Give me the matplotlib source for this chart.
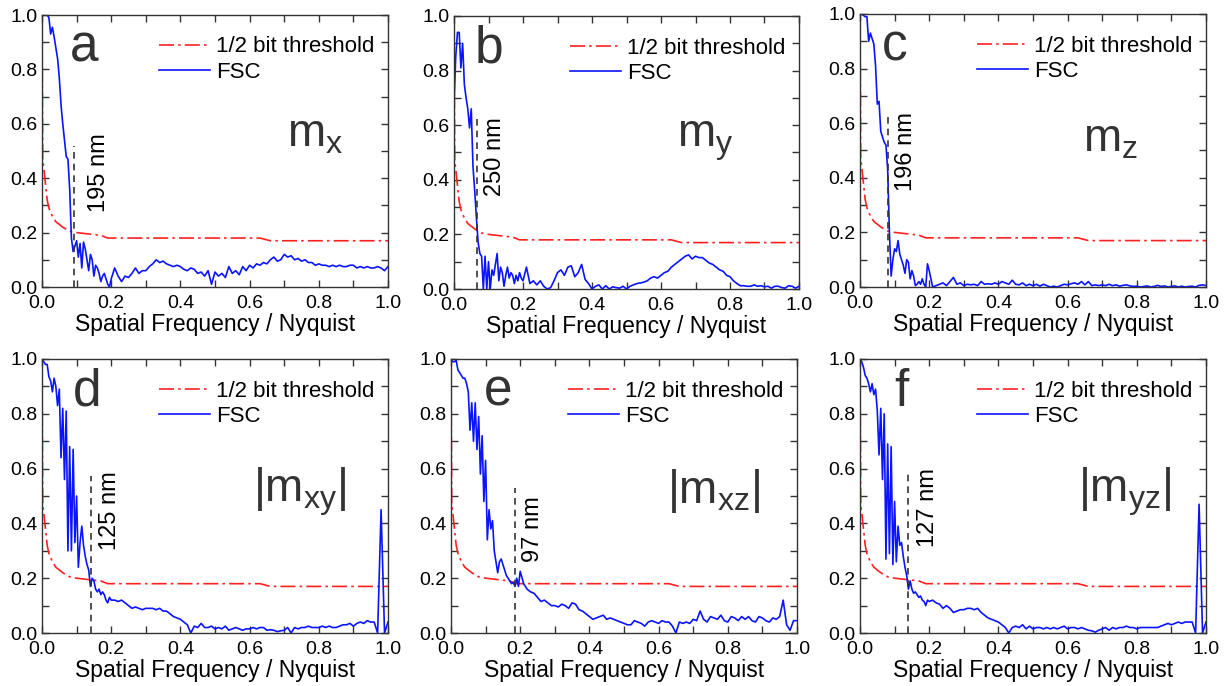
import numpy as np
import matplotlib
matplotlib.use("Agg")
import matplotlib.pyplot as plt
from matplotlib.ticker import MultipleLocator

plt.rcParams['font.family'] = ['Liberation Sans', 'DejaVu Sans']
plt.rcParams['mathtext.fontset'] = 'custom'
plt.rcParams['mathtext.rm'] = 'Liberation Sans'
plt.rcParams['mathtext.it'] = 'Liberation Sans'
plt.rcParams['mathtext.bf'] = 'Liberation Sans:bold'

# sampling grid: fine steps up to 0.2, coarser afterwards
freq = np.concatenate([np.arange(41) * 0.005, 0.21 + np.arange(80) * 0.01])

# 1/2 bit threshold
thr_x = [0.0, 0.002, 0.005, 0.01, 0.015, 0.02, 0.03, 0.04, 0.06, 0.08, 0.10, 0.17, 0.19, 0.63, 0.66, 1.0]
thr_y = [1.0, 0.47, 0.44, 0.38, 0.32, 0.29, 0.26, 0.24, 0.22, 0.205, 0.20, 0.19, 0.18, 0.18, 0.17, 0.17]

fsc_a = [1.00, 1.00, 1.00, 1.00, 0.99, 0.93, 0.955, 0.92, 0.88, 0.84,
         0.77, 0.67, 0.60, 0.54, 0.48, 0.47, 0.36, 0.18, 0.13, 0.15,
         0.17, 0.11, 0.16, 0.07, 0.165, 0.14, 0.10, 0.06, 0.12, 0.10,
         0.04, 0.08, 0.07, 0.05, 0.02, 0.04, 0.05, 0.03, 0.01, 0.00,
         0.03,
         0.07, 0.04, 0.02, 0.04, 0.035, 0.05, 0.07, 0.05, 0.06, 0.06,
         0.075, 0.085, 0.10, 0.09, 0.095, 0.085, 0.08, 0.075, 0.08, 0.075,
         0.065, 0.06, 0.07, 0.065, 0.05, 0.055, 0.04, 0.06, 0.01, 0.055,
         0.04, 0.05, 0.035, 0.075, 0.05, 0.06, 0.045, 0.075, 0.06, 0.08,
         0.07, 0.085, 0.08, 0.09, 0.085, 0.10, 0.11, 0.095, 0.10, 0.12,
         0.11, 0.115, 0.10, 0.105, 0.095, 0.10, 0.09, 0.09, 0.08, 0.085,
         0.08, 0.08, 0.075, 0.08, 0.075, 0.08, 0.075, 0.075, 0.08, 0.08,
         0.07, 0.075, 0.07, 0.075, 0.07, 0.07, 0.075, 0.07, 0.06, 0.075]

fsc_b = [0.68, 0.85, 0.94, 0.94, 0.81, 0.90, 0.75, 0.70, 0.66, 0.59,
         0.66, 0.45, 0.36, 0.26, 0.17, 0.13, 0.12, 0.00, 0.12, 0.00,
         0.10, 0.00, 0.07, 0.05, 0.09, 0.13, 0.03, 0.08, 0.06, 0.01,
         0.05, 0.08, 0.04, 0.06, 0.05, 0.02, 0.05, 0.03, 0.06, 0.04,
         0.03,
         0.08, 0.02, 0.03, 0.015, 0.03, 0.01, 0.0, 0.005, 0.03, 0.06,
         0.07, 0.05, 0.08, 0.085, 0.045, 0.06, 0.09, 0.035, 0.02, 0.0,
         0.01, 0.015, 0.0, 0.012, 0.0, 0.008, 0.005, 0.003, 0.01, 0.0,
         0.01, 0.015, 0.02, 0.022, 0.025, 0.03, 0.04, 0.045, 0.04, 0.05,
         0.06, 0.065, 0.08, 0.09, 0.10, 0.11, 0.12, 0.125, 0.11, 0.12,
         0.115, 0.115, 0.105, 0.095, 0.09, 0.08, 0.07, 0.065, 0.05, 0.045,
         0.03, 0.02, 0.012, 0.012, 0.01, 0.01, 0.015, 0.01, 0.012, 0.008,
         0.01, 0.003, 0.01, 0.01, 0.005, 0.003, 0.012, 0.01, 0.003, 0.01]

fsc_c = [1.00, 1.00, 0.995, 0.99, 0.99, 0.90, 0.93, 0.91, 0.89, 0.81,
         0.67, 0.68, 0.57, 0.55, 0.53, 0.52, 0.43, 0.20, 0.04, 0.10,
         0.14, 0.13, 0.17, 0.12, 0.10, 0.08, 0.05, 0.10, 0.09, 0.03,
         0.06, 0.04, 0.005, 0.01, 0.02, 0.01, 0.03, 0.01, 0.0, 0.085,
         0.06,
         0.0, 0.005, 0.01, 0.015, 0.005, 0.02, 0.035, 0.01, 0.015, 0.005,
         0.01, 0.008, 0.01, 0.005, 0.02, 0.01, 0.012, 0.01, 0.015, 0.01,
         0.02, 0.015, 0.01, 0.025, 0.01, 0.008, 0.015, 0.005, 0.01, 0.005,
         0.01, 0.003, 0.01, 0.005, 0.0, 0.003, 0.0, 0.005, 0.01, 0.008,
         0.012, 0.015, 0.01, 0.02, 0.008, 0.02, 0.005, 0.008, 0.005, 0.008,
         0.005, 0.01, 0.005, 0.008, 0.003, 0.006, 0.008, 0.004, 0.002, 0.003,
         0.0, 0.002, 0.004, 0.0, 0.002, 0.006, 0.002, 0.004, 0.0, 0.002,
         0.004, 0.0, 0.003, 0.0, 0.002, 0.003, 0.0, 0.006, 0.008, 0.005]

fsc_d = [1.00, 0.99, 0.98, 0.98, 0.935, 0.92, 0.88, 0.93, 0.90, 0.83,
         0.89, 0.64, 0.82, 0.56, 0.81, 0.30, 0.68, 0.30, 0.67, 0.33,
         0.50, 0.24, 0.33, 0.39, 0.32, 0.28, 0.25, 0.23, 0.17, 0.20,
         0.19, 0.16, 0.15, 0.16, 0.14, 0.15, 0.14, 0.12, 0.11, 0.13,
         0.12,
         0.12, 0.115, 0.12, 0.11, 0.10, 0.09, 0.095, 0.09, 0.085, 0.09,
         0.09, 0.09, 0.085, 0.09, 0.08, 0.08, 0.07, 0.06, 0.055, 0.05,
         0.04, 0.03, 0.0, 0.025, 0.02, 0.035, 0.02, 0.02, 0.025, 0.015,
         0.02, 0.015, 0.025, 0.01, 0.015, 0.02, 0.015, 0.01, 0.015, 0.015,
         0.02, 0.015, 0.02, 0.02, 0.01, 0.012, 0.01, 0.005, 0.008, 0.01,
         0.02, 0.0, 0.02, 0.015, 0.02, 0.02, 0.025, 0.02, 0.02, 0.02,
         0.025, 0.02, 0.025, 0.02, 0.02, 0.025, 0.03, 0.03, 0.035, 0.025,
         0.035, 0.04, 0.035, 0.045, 0.04, 0.04, 0.0, 0.45, 0.0, 0.04]

fsc_e = [1.00, 0.99, 0.99, 0.995, 0.96, 0.95, 0.94, 0.93, 0.93, 0.91,
         0.88, 0.74, 0.84, 0.70, 0.84, 0.67, 0.79, 0.58, 0.72, 0.48,
         0.63, 0.34, 0.45, 0.38, 0.41, 0.30, 0.26, 0.22, 0.26, 0.27,
         0.25, 0.23, 0.21, 0.20, 0.19, 0.18, 0.185, 0.17, 0.20, 0.17,
         0.225,
         0.18, 0.16, 0.15, 0.145, 0.13, 0.115, 0.12, 0.11, 0.10, 0.10,
         0.095, 0.105, 0.10, 0.09, 0.11, 0.105, 0.085, 0.08, 0.07, 0.06,
         0.05, 0.055, 0.06, 0.065, 0.05, 0.055, 0.05, 0.045, 0.04, 0.035,
         0.03, 0.03, 0.045, 0.04, 0.035, 0.025, 0.04, 0.045, 0.04, 0.035,
         0.045, 0.04, 0.04, 0.025, 0.0, 0.04, 0.035, 0.04, 0.035, 0.05,
         0.045, 0.08, 0.05, 0.04, 0.06, 0.055, 0.05, 0.065, 0.045, 0.04,
         0.06, 0.055, 0.045, 0.06, 0.05, 0.06, 0.045, 0.04, 0.06, 0.055,
         0.045, 0.04, 0.055, 0.05, 0.06, 0.12, 0.03, 0.01, 0.045, 0.045]

fsc_f = [1.00, 0.99, 0.97, 0.94, 0.93, 0.91, 0.88, 0.91, 0.87, 0.89,
         0.81, 0.65, 0.82, 0.56, 0.80, 0.27, 0.69, 0.29, 0.68, 0.25,
         0.48, 0.26, 0.39, 0.32, 0.33, 0.28, 0.24, 0.21, 0.16, 0.19,
         0.16, 0.145, 0.15, 0.14, 0.13, 0.135, 0.12, 0.115, 0.10, 0.12,
         0.115,
         0.12, 0.11, 0.105, 0.09, 0.10, 0.09, 0.075, 0.08, 0.085, 0.085,
         0.09, 0.09, 0.085, 0.09, 0.075, 0.065, 0.055, 0.05, 0.045, 0.04,
         0.03, 0.02, 0.0, 0.02, 0.025, 0.02, 0.03, 0.015, 0.025, 0.015,
         0.02, 0.02, 0.015, 0.02, 0.015, 0.02, 0.015, 0.02, 0.025, 0.015,
         0.02, 0.02, 0.015, 0.02, 0.015, 0.01, 0.008, 0.003, 0.01, 0.015,
         0.02, 0.01, 0.02, 0.015, 0.02, 0.02, 0.025, 0.02, 0.02, 0.015,
         0.02, 0.02, 0.02, 0.02, 0.02, 0.02, 0.025, 0.03, 0.035, 0.03,
         0.035, 0.04, 0.035, 0.04, 0.04, 0.04, 0.0, 0.47, 0.0, 0.04]

fsc_all = [fsc_a, fsc_b, fsc_c, fsc_d, fsc_e, fsc_f]
letters = ['a', 'b', 'c', 'd', 'e', 'f']
components = [r'$m_x$', r'$m_y$', r'$m_z$', r'$|m_{xy}|$', r'$|m_{xz}|$', r'$|m_{yz}|$']
cutoff_x = [0.092, 0.066, 0.082, 0.141, 0.184, 0.140]
cutoff_top = [0.52, 0.625, 0.623, 0.573, 0.53, 0.59]
res_labels = ['195 nm', '250 nm', '196 nm', '125 nm', '97 nm', '127 nm']

# axes rectangles in pixels (left, top, right, bottom) of the 1227x686 figure
W, H = 1227, 686
boxes = [(42, 15, 388, 287), (454, 16, 799, 289), (860, 14, 1206, 287),
         (42, 359, 388, 633), (451, 359, 797, 633), (860, 359, 1206, 633)]
res_pos = [(0.164, 0.42), (0.119, 0.485), (0.133, 0.495),
           (0.196, 0.445), (0.237, 0.378), (0.197, 0.457)]
letter_x = [0.082, 0.061, 0.063, 0.090, 0.094, 0.100]
comp_pos = [(0.708, 0.515), (0.645, 0.522), (0.645, 0.495),
            (0.61, 0.48), (0.624, 0.475), (0.63, 0.48)]

fig = plt.figure(figsize=(W / 100, H / 100), dpi=100)
dark = '#333333'

for i in range(6):
    l, t, r, b = boxes[i]
    ax = fig.add_axes([l / W, 1 - b / H, (r - l) / W, (b - t) / H])
    ax.plot(thr_x, thr_y, color='#ff2020', lw=1.2, dashes=(9, 2.5, 1.5, 2.5),
            label='1/2 bit threshold')
    ax.plot(freq, fsc_all[i], color='#0a14ff', lw=1.2, label='FSC')
    ax.plot([cutoff_x[i], cutoff_x[i]], [0, cutoff_top[i]], color=dark,
            lw=1.2, dashes=(4, 3))
    ax.text(res_pos[i][0], res_pos[i][1], res_labels[i], rotation=90,
            fontsize=17, ha='center', va='center', color='black')
    ax.text(letter_x[i], 0.83, letters[i], fontsize=37, ha='left',
            va='baseline', color=dark)
    ax.text(comp_pos[i][0], comp_pos[i][1], components[i], fontsize=33,
            ha='left', va='baseline', color=dark)

    ax.set_xlim(0, 1)
    ax.set_ylim(0, 1)
    ax.xaxis.set_major_locator(MultipleLocator(0.2))
    ax.yaxis.set_major_locator(MultipleLocator(0.2))
    ax.xaxis.set_minor_locator(MultipleLocator(0.1))
    ax.yaxis.set_minor_locator(MultipleLocator(0.1))
    ax.xaxis.set_major_formatter('{x:.1f}')
    ax.yaxis.set_major_formatter('{x:.1f}')
    ax.tick_params(which='both', direction='in', top=True, right=True,
                   color=dark, labelsize=14)
    ax.tick_params(axis='x', pad=5.5)
    ax.tick_params(axis='y', pad=3)
    ax.tick_params(which='major', length=5, width=1)
    ax.tick_params(which='minor', length=5, width=1)
    for s in ax.spines.values():
        s.set_color(dark)
        s.set_linewidth(1.0)
    ax.set_xlabel('Spatial Frequency / Nyquist', fontsize=16.5, labelpad=1)

    ax.legend(loc='upper right', bbox_to_anchor=(1.0, 0.97), frameon=False,
              fontsize=16, handlelength=2.3, handletextpad=0.3,
              labelspacing=0.2, borderaxespad=0.2)

fig.savefig('out.png', dpi=100)
